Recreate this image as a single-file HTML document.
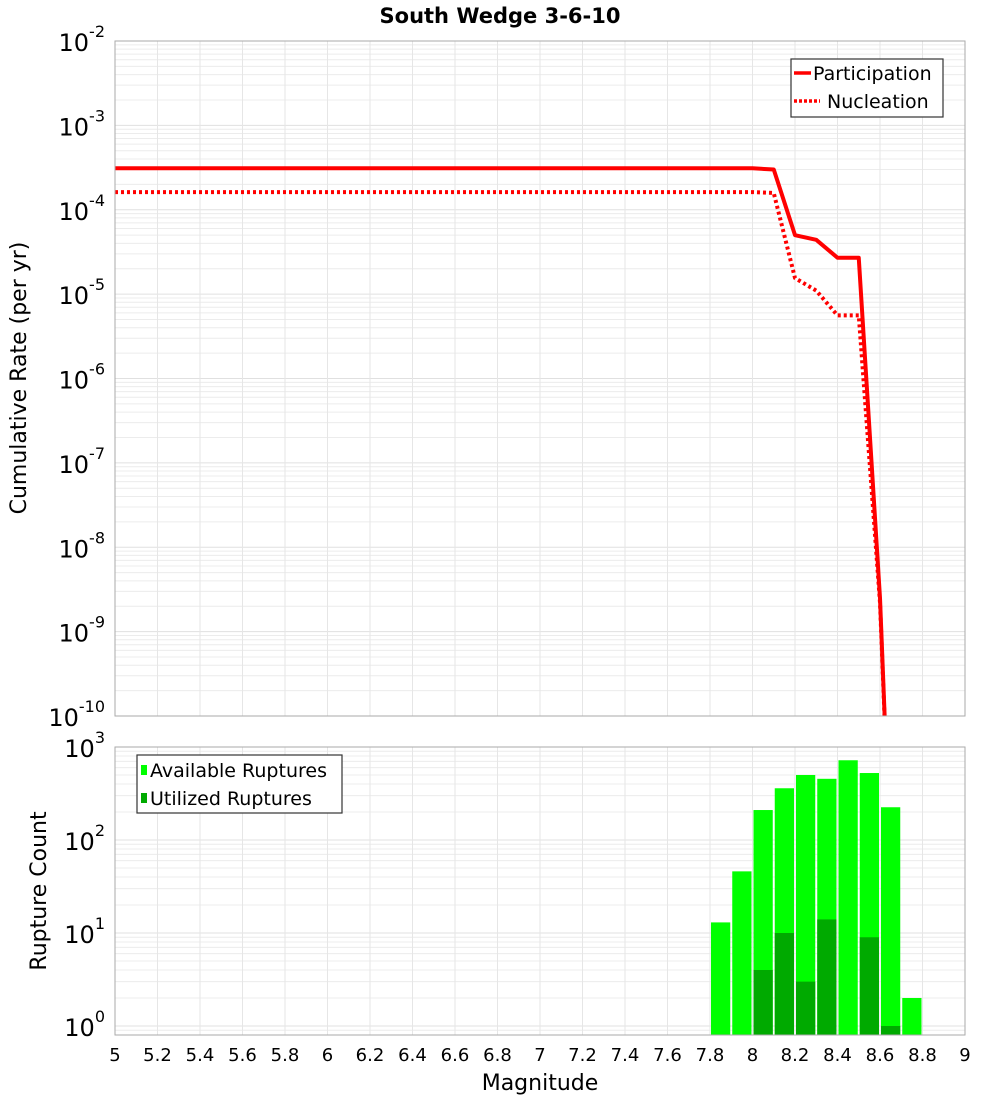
<!DOCTYPE html>
<html><head><meta charset="utf-8"><style>
body{margin:0;background:#fff;}
svg text{font-family:"DejaVu Sans","Liberation Sans",sans-serif;fill:#000;}
</style></head><body>
<svg id="chart" width="1000" height="1100" xmlns="http://www.w3.org/2000/svg">
<text x="500" y="23" text-anchor="middle" font-size="21" font-weight="bold">South Wedge 3-6-10</text>
<g id="topg"></g>
<g id="botg"></g>
<text transform="translate(26,378) rotate(-90)" text-anchor="middle" font-size="22">Cumulative Rate (per yr)</text>
<text transform="translate(46,891) rotate(-90)" text-anchor="middle" font-size="22">Rupture Count</text>
<text x="540" y="1090" text-anchor="middle" font-size="22">Magnitude</text>
<g>
<rect x="791" y="59" width="152" height="58" fill="#fff" stroke="#333" stroke-width="1.2"/>
<line x1="794" y1="73" x2="811" y2="73" stroke="#f00" stroke-width="3.5"/>
<text x="813" y="80" font-size="19">Participation</text>
<line x1="794" y1="101" x2="820" y2="101" stroke="#f00" stroke-width="3.5" stroke-dasharray="3,2"/>
<text x="827" y="108" font-size="19">Nucleation</text>
</g>
<g>
<rect x="137" y="755" width="205" height="58" fill="#fff" stroke="#333" stroke-width="1.2"/>
<rect x="141" y="765" width="6" height="10" fill="#00ff00"/>
<text x="150" y="777" font-size="19">Available Ruptures</text>
<rect x="141" y="793" width="6" height="10" fill="#00aa00"/>
<text x="150" y="805" font-size="19">Utilized Ruptures</text>
</g>
</svg>
<script>
const magsLine=[5.0,8.0,8.1,8.2,8.3,8.4,8.5,8.6,8.7];
const participation=[3.1e-4,3.1e-4,3.0e-4,5.0e-5,4.4e-5,2.7e-5,2.7e-5,2.5e-9,1e-15];
const nucleation=[1.62e-4,1.62e-4,1.58e-4,1.55e-5,1.1e-5,5.6e-6,5.6e-6,2.2e-9,1e-15];
const binStarts=[7.8,7.9,8.0,8.1,8.2,8.3,8.4,8.5,8.6,8.7];
const available=[13,46,210,360,500,455,720,525,225,2];
const utilized=[0,0,4,10,3,14,0,9,1,0];
const xTicks=["5","5.2","5.4","5.6","5.8","6","6.2","6.4","6.6","6.8","7","7.2","7.4","7.6","7.8","8","8.2","8.4","8.6","8.8","9"];
const topExps=[-2,-3,-4,-5,-6,-7,-8,-9,-10];
const botExps=[3,2,1,0];

const NS="http://www.w3.org/2000/svg";
const X0=115,X1=965;
const xs=m=>X0+(m-5)/4*(X1-X0);
const T0=41,T1=716; const ty=v=>T0+(-2-Math.log10(v))/8*(T1-T0);
const B0=747,B1=1035; const BZ=1026,BD=93; const by=v=>BZ-Math.log10(v)*BD;
function mk(p,tag,a){const e=document.createElementNS(NS,tag);for(const k in a)e.setAttribute(k,a[k]);p.appendChild(e);return e;}
const topG=document.getElementById('topg'),botG=document.getElementById('botg');
const defs=mk(document.getElementById('chart'),'defs',{});
const cp=mk(defs,'clipPath',{id:'ct'});mk(cp,'rect',{x:X0,y:T0,width:X1-X0,height:T1-T0});
function grid(g,y0,y1,yfun,dmin,dmax){
  for(let d=dmin;d<dmax;d++)for(let k=1;k<10;k++){const v=k*Math.pow(10,d);const y=yfun(v);if(y<y0-0.5||y>y1+0.5)continue;
    const l=mk(g,'line',{x1:X0,x2:X1,y1:y,y2:y,stroke:k==1?'#e0e0e0':'#ececec','stroke-width':1});
    
    }
  xTicks.forEach(t=>{const x=xs(+t);const l=mk(g,'line',{x1:x,x2:x,y1:y0,y2:y1,stroke:'#e6e6e6','stroke-width':1});
    
    });
}
grid(topG,T0,T1,ty,-10,-1);
grid(botG,B0,B1,by,-1,3);
function ylab(g,y,e){const t=mk(g,'text',{x:105,y:y+10,'text-anchor':'end','font-size':24});
  
  
  t.textContent='10';const s=mk(t,'tspan',{dy:-14,'font-size':16});s.textContent=String(e);}
topExps.forEach(e=>ylab(topG,ty(Math.pow(10,e)),e));
botExps.forEach(e=>ylab(botG,by(Math.pow(10,e)),e));
function series(data,name,dash){let d='';magsLine.forEach((m,i)=>{d+=(i?'L':'M')+xs(m)+','+ty(data[i]);});
  const p=mk(topG,'path',{d:d,fill:'none',stroke:'#f00','stroke-width':4,'clip-path':'url(#ct)','stroke-linejoin':'round'});
  if(dash)p.setAttribute('stroke-dasharray',dash);
  
  }
series(nucleation,'nucleation-line','3,3');
series(participation,'participation-line',null);
const bw=(X1-X0)/40;
binStarts.forEach((m,i)=>{const x=xs(m)+1,w=bw-2;
  const r=mk(botG,'rect',{x:x,y:by(available[i]),width:w,height:B1-by(available[i]),fill:'#00ff00'});
  
  
  if(utilized[i]>0){const u=mk(botG,'rect',{x:x,y:by(utilized[i]),width:w,height:B1-by(utilized[i]),fill:'#00aa00'});
    
    }
});
const f1=mk(topG,'rect',{x:X0,y:T0,width:X1-X0,height:T1-T0,fill:'none',stroke:'#aaa'});


const f2=mk(botG,'rect',{x:X0,y:B0,width:X1-X0,height:B1-B0,fill:'none',stroke:'#aaa'});


xTicks.forEach(t=>{const tx=mk(botG,'text',{x:xs(+t),y:1061,'text-anchor':'middle','font-size':18});
  
  
  tx.textContent=t;});
</script>
</body></html>
